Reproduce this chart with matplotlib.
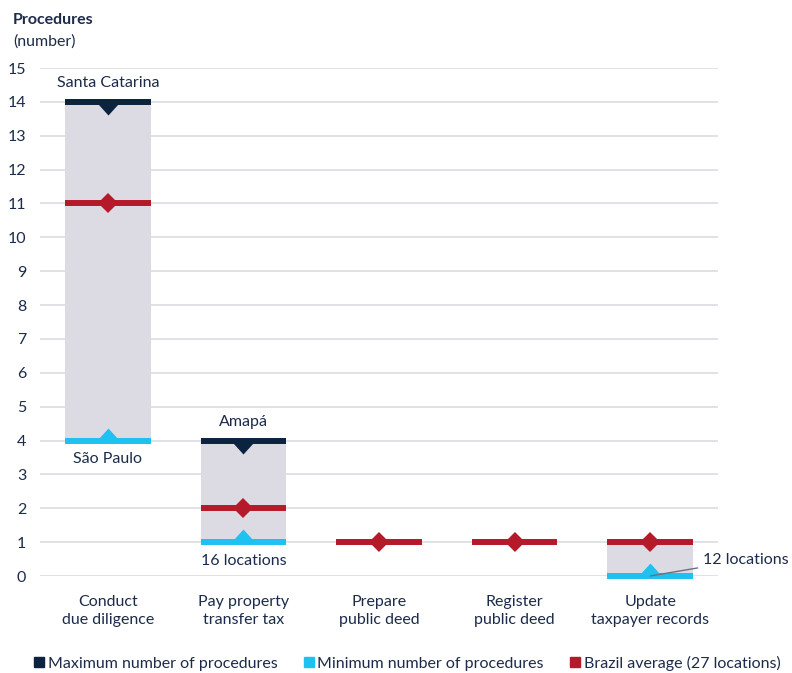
import matplotlib
matplotlib.use("Agg")
import matplotlib.pyplot as plt
import numpy as np
from matplotlib.lines import Line2D

plt.rcParams['font.family'] = ['Lato', 'DejaVu Sans']

categories = ["Conduct\ndue diligence", "Pay property\ntransfer tax", "Prepare\npublic deed",
              "Register\npublic deed", "Update\ntaxpayer records"]
max_vals = [14, 4, 1, 1, 1]
min_vals = [4, 1, 1, 1, 0]
avg_vals = [11, 2, 1, 1, 1]
yticks = list(range(0, 16))

NAVY = '#0c2340'
CYAN = '#1fc1f0'
RED = '#b51a2a'
GRAY = '#dcdbe3'
GRID = '#dcdce4'
TXT = '#1c2b4a'
FS = 11.5

fig = plt.figure(figsize=(7.92, 6.73), dpi=100)
ax = fig.add_axes([40/792, 1-576/673, 678/792, 508/673])

x = np.arange(len(categories))
w = 0.63
heights = [mx - mn for mx, mn in zip(max_vals, min_vals)]
ax.bar(x, heights, bottom=min_vals, width=w, color=GRAY, zorder=2)

down_tri = [(-1, 0), (1, 0), (0, -1.1), (-1, 0)]
up_tri = [(-1, 0), (1, 0), (0, 1.1), (-1, 0)]
ms_tri = 26 * 72 / 100

for i in range(len(x)):
    if max_vals[i] != avg_vals[i]:
        ax.hlines(max_vals[i], x[i]-w/2, x[i]+w/2, color=NAVY, lw=4.3, zorder=3)
        ax.plot(x[i], max_vals[i], marker=down_tri, ms=ms_tri, color=NAVY, mew=0, zorder=3)
    if min_vals[i] != avg_vals[i]:
        ax.hlines(min_vals[i], x[i]-w/2, x[i]+w/2, color=CYAN, lw=4.3, zorder=3, clip_on=False)
        ax.plot(x[i], min_vals[i], marker=up_tri, ms=ms_tri, color=CYAN, mew=0, zorder=3, clip_on=False)
    ax.hlines(avg_vals[i], x[i]-w/2, x[i]+w/2, color=RED, lw=4.3, zorder=4)
    ax.plot(x[i], avg_vals[i], marker='D', ms=10.2, color=RED, mew=0, zorder=4)

ax.set_xlim(-0.5, 4.5)
ax.set_ylim(0, 15)
ax.set_yticks(yticks)
ax.set_xticks(x)
ax.set_xticklabels(categories)
ax.yaxis.grid(True, color=GRID, lw=1.2, zorder=0)
ax.set_axisbelow(True)
for s in ax.spines.values():
    s.set_visible(False)
ax.tick_params(axis='both', length=0, labelsize=FS, colors=TXT)
ax.tick_params(axis='y', pad=10)
ax.tick_params(axis='x', pad=14)
for lbl in ax.get_xticklabels():
    lbl.set_linespacing(1.35)

# annotations
ax.text(x[0], 14.55, "Santa Catarina", ha='center', va='center', fontsize=FS, color=TXT)
ax.text(x[1], 4.55, "Amapá", ha='center', va='center', fontsize=FS, color=TXT)
ax.text(x[0], 3.45, "São Paulo", ha='center', va='center', fontsize=FS, color=TXT)
ax.text(x[1], 0.45, "16 locations", ha='center', va='center', fontsize=FS, color=TXT)
ax.annotate("12 locations", xy=(x[4], 0.0), xytext=(x[4] + 0.39, 0.48),
            ha='left', va='center', fontsize=FS, color=TXT,
            arrowprops=dict(arrowstyle='-', color='#6b6f80', lw=1, shrinkA=2, shrinkB=0),
            annotation_clip=False)

fig.text(13/792, 1-20/673, "Procedures", fontsize=FS, fontweight='bold', color=TXT, va='center', ha='left')
fig.text(13/792, 1-42/673, "(number)", fontsize=FS, color=TXT, va='center', ha='left')

handles = [Line2D([], [], marker='s', ls='', color=c, ms=7.5) for c in (NAVY, CYAN, RED)]
labels = ["Maximum number of procedures", "Minimum number of procedures", "Brazil average (27 locations)"]
leg = fig.legend(handles, labels, loc='center', bbox_to_anchor=(407/792, 1-663/673), ncol=3,
                 frameon=False, fontsize=FS, handlelength=0.7, handletextpad=0.2,
                 columnspacing=1.6, borderpad=0)
for t in leg.get_texts():
    t.set_color(TXT)

fig.savefig("out.png", dpi=100)
